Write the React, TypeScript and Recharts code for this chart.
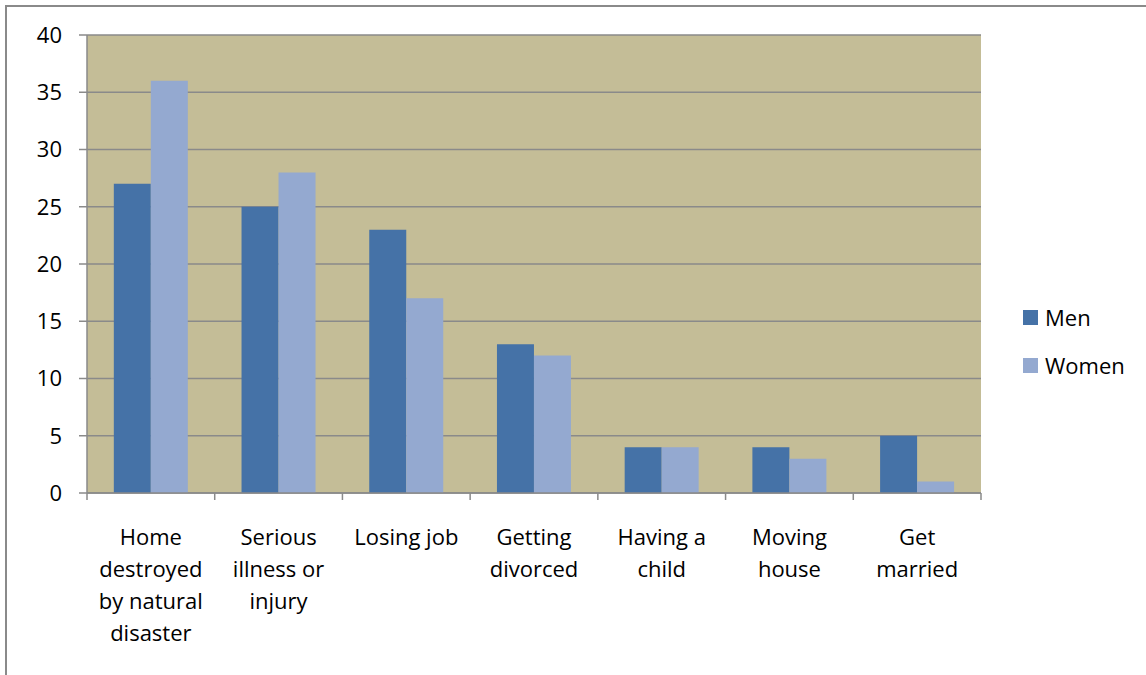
import { Bar, BarChart, CartesianGrid, XAxis, YAxis } from "recharts";

const categories = [
  "Home destroyed by natural disaster",
  "Serious illness or injury",
  "Losing job",
  "Getting divorced",
  "Having a child",
  "Moving house",
  "Get married",
];
const labelLines = [
  ["Home", "destroyed", "by natural", "disaster"],
  ["Serious", "illness or", "injury"],
  ["Losing job"],
  ["Getting", "divorced"],
  ["Having a", "child"],
  ["Moving", "house"],
  ["Get", "married"],
];
const men = [27, 25, 23, 13, 4, 4, 5];
const women = [36, 28, 17, 12, 4, 3, 1];
const yTicks = [0, 5, 10, 15, 20, 25, 30, 35, 40];

const data = categories.map((c, i) => ({ name: c, men: men[i], women: women[i] }));

const FONT = "'Open Sans', 'Liberation Sans', sans-serif";
const AXIS_GRAY = "#8a8a8a";
const MEN_COLOR = "#4572a7";
const WOMEN_COLOR = "#94a9d0";

function CategoryTick(props: any) {
  const { x, y, index, width, visibleTicksCount } = props;
  const step = width / visibleTicksCount;
  const lines = labelLines[index] ?? [];
  return (
    <g>
      <line x1={x - step / 2} x2={x - step / 2} y1={y} y2={y + 7} stroke={AXIS_GRAY} strokeWidth={1.5} />
      {index === visibleTicksCount - 1 && (
        <line x1={x + step / 2} x2={x + step / 2} y1={y} y2={y + 7} stroke={AXIS_GRAY} strokeWidth={1.5} />
      )}
      <text textAnchor="middle" fontFamily={FONT} fontSize={22} fill="#000">
        {lines.map((l, i) => (
          <tspan key={i} x={x} y={y + 52 + i * 32}>
            {l}
          </tspan>
        ))}
      </text>
    </g>
  );
}

function ChartLegend() {
  const items = [
    { label: "Men", color: MEN_COLOR },
    { label: "Women", color: WOMEN_COLOR },
  ];
  return (
    <div style={{ position: "absolute", left: 1023, top: 293, fontFamily: FONT, fontSize: 22, color: "#000" }}>
      {items.map((it) => (
        <div key={it.label} style={{ display: "flex", alignItems: "center", height: 48 }}>
          <span style={{ display: "inline-block", width: 15, height: 15, background: it.color, marginRight: 7 }} />
          {it.label}
        </div>
      ))}
    </div>
  );
}

export default function App() {
  return (
    <div style={{ position: "fixed", left: 0, top: 0, width: 1146, height: 675, background: "#fff", overflow: "hidden" }}>
      <div
        style={{
          position: "absolute",
          left: 5,
          top: 5,
          width: 1200,
          height: 700,
          border: "2px solid #8a8a8a",
          boxSizing: "border-box",
        }}
      />
      <div style={{ position: "absolute", left: 0, top: 0 }}>
        <BarChart
          width={1146}
          height={675}
          data={data}
          margin={{ top: 35, right: 165, bottom: 0, left: 0 }}
          barCategoryGap="21%"
          barGap={0}
        >
          <CartesianGrid vertical={false} fill="#c4bd97" stroke={AXIS_GRAY} strokeWidth={1.5} fillOpacity={1} />
          <XAxis
            dataKey="name"
            height={182}
            interval={0}
            tickLine={false}
            tickSize={0}
            tickMargin={0}
            axisLine={{ stroke: AXIS_GRAY, strokeWidth: 1.5 }}
            tick={<CategoryTick />}
          />
          <YAxis
            width={87}
            domain={[0, 40]}
            ticks={yTicks}
            interval={0}
            tickSize={8}
            tickMargin={17}
            tickLine={{ stroke: AXIS_GRAY, strokeWidth: 1.5 }}
            axisLine={{ stroke: AXIS_GRAY, strokeWidth: 1.5 }}
            tick={{ fontFamily: FONT, fontSize: 22, fill: "#000" }}
          />
          <Bar dataKey="men" name="Men" fill={MEN_COLOR} isAnimationActive={false} />
          <Bar dataKey="women" name="Women" fill={WOMEN_COLOR} isAnimationActive={false} />
        </BarChart>
      </div>
      <ChartLegend />
    </div>
  );
}
